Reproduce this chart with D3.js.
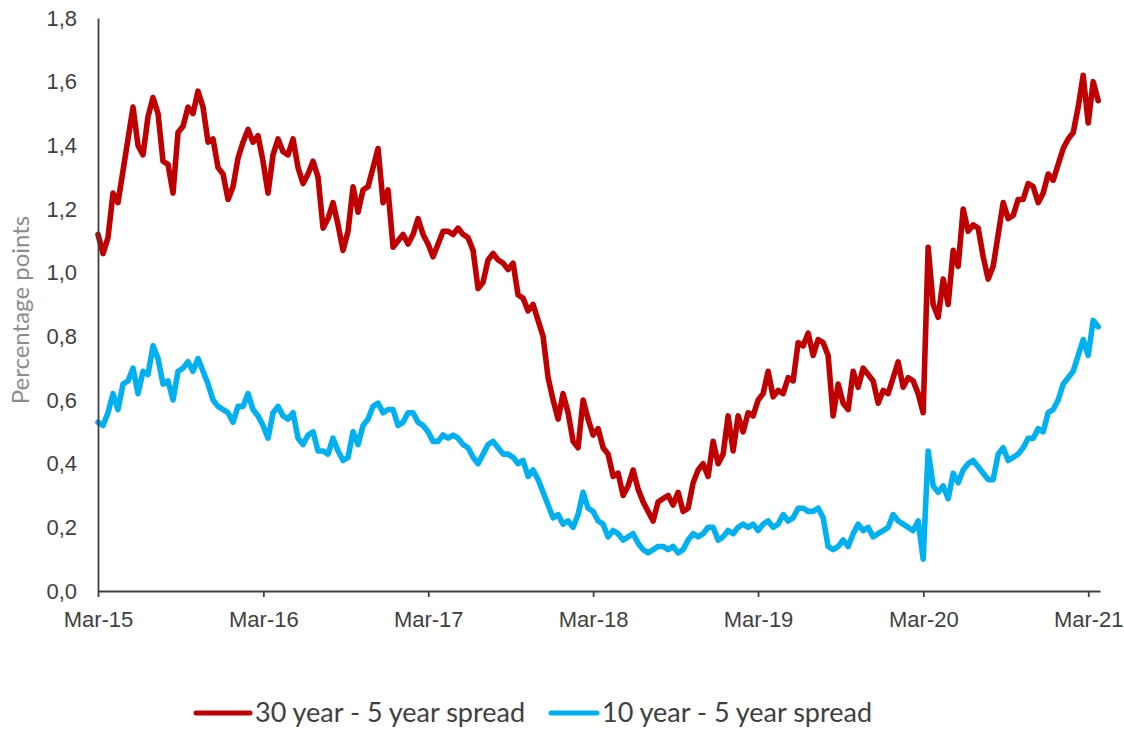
<!DOCTYPE html>
<html>
<head>
<meta charset="utf-8">
<script src="https://cdn.jsdelivr.net/npm/d3@7"></script>
<style>
  body { margin: 0; background: #fff; }
  svg { font-family: Lato, "Open Sans", sans-serif; }
  .tick text { fill: #404040; font-size: 22px; }
  .domain, .tick line { stroke: #404040; stroke-width: 1.8px; }
</style>
</head>
<body>
<script>
var svgWidth = 1124;
var svgHeight = 730;

// observations start 1 Mar 2015, one value every ~11 days
var startDate = new Date(2015, 2, 1);
var stepDays = 11.07;

var spread30_5 = [
    1.12, 1.06, 1.11, 1.25, 1.22, 1.32, 1.42, 1.52, 1.40, 1.37,
    1.49, 1.55, 1.50, 1.35, 1.34, 1.25, 1.44, 1.46, 1.52, 1.50,
    1.57, 1.52, 1.41, 1.42, 1.33, 1.31, 1.23, 1.27, 1.36, 1.41,
    1.45, 1.41, 1.43, 1.35, 1.25, 1.37, 1.42, 1.38, 1.37, 1.42,
    1.33, 1.28, 1.31, 1.35, 1.30, 1.14, 1.17, 1.22, 1.15, 1.07,
    1.13, 1.27, 1.19, 1.26, 1.27, 1.33, 1.39, 1.22, 1.26, 1.08,
    1.10, 1.12, 1.09, 1.12, 1.17, 1.12, 1.09, 1.05, 1.09, 1.13,
    1.13, 1.12, 1.14, 1.12, 1.11, 1.07, 0.95, 0.97, 1.04, 1.06,
    1.04, 1.03, 1.01, 1.03, 0.93, 0.92, 0.88, 0.90, 0.85, 0.80,
    0.67, 0.60, 0.54, 0.62, 0.56, 0.47, 0.45, 0.60, 0.54, 0.49,
    0.51, 0.45, 0.43, 0.36, 0.37, 0.30, 0.33, 0.38, 0.32, 0.28,
    0.25, 0.22, 0.28, 0.29, 0.30, 0.27, 0.31, 0.25, 0.26, 0.34,
    0.38, 0.40, 0.36, 0.47, 0.40, 0.43, 0.55, 0.44, 0.55, 0.50,
    0.56, 0.55, 0.60, 0.62, 0.69, 0.61, 0.63, 0.62, 0.67, 0.66,
    0.78, 0.77, 0.81, 0.74, 0.79, 0.78, 0.74, 0.55, 0.65, 0.59,
    0.57, 0.69, 0.64, 0.70, 0.68, 0.66, 0.59, 0.63, 0.62, 0.67,
    0.72, 0.64, 0.67, 0.66, 0.62, 0.56, 1.08, 0.90, 0.86, 0.98,
    0.90, 1.07, 1.02, 1.20, 1.13, 1.15, 1.14, 1.05, 0.98, 1.02,
    1.12, 1.22, 1.17, 1.18, 1.23, 1.23, 1.28, 1.27, 1.22, 1.25,
    1.31, 1.29, 1.34, 1.39, 1.42, 1.44, 1.52, 1.62, 1.47, 1.60,
    1.54
];

var spread10_5 = [
    0.53, 0.52, 0.56, 0.62, 0.57, 0.65, 0.66, 0.70, 0.62, 0.69,
    0.68, 0.77, 0.73, 0.65, 0.66, 0.60, 0.69, 0.70, 0.72, 0.69,
    0.73, 0.69, 0.65, 0.60, 0.58, 0.57, 0.56, 0.53, 0.58, 0.58,
    0.62, 0.57, 0.55, 0.52, 0.48, 0.56, 0.58, 0.55, 0.54, 0.56,
    0.48, 0.46, 0.49, 0.50, 0.44, 0.44, 0.43, 0.48, 0.44, 0.41,
    0.42, 0.50, 0.46, 0.52, 0.54, 0.58, 0.59, 0.56, 0.57, 0.57,
    0.52, 0.53, 0.56, 0.56, 0.53, 0.52, 0.50, 0.47, 0.47, 0.49,
    0.48, 0.49, 0.48, 0.46, 0.45, 0.42, 0.40, 0.43, 0.46, 0.47,
    0.45, 0.43, 0.43, 0.42, 0.40, 0.41, 0.36, 0.38, 0.35, 0.31,
    0.27, 0.23, 0.24, 0.21, 0.22, 0.20, 0.24, 0.31, 0.26, 0.25,
    0.22, 0.21, 0.17, 0.19, 0.18, 0.16, 0.17, 0.18, 0.15, 0.13,
    0.12, 0.13, 0.14, 0.14, 0.13, 0.14, 0.12, 0.13, 0.16, 0.18,
    0.17, 0.18, 0.20, 0.20, 0.16, 0.17, 0.19, 0.18, 0.20, 0.21,
    0.20, 0.21, 0.19, 0.21, 0.22, 0.20, 0.21, 0.24, 0.22, 0.23,
    0.26, 0.26, 0.25, 0.25, 0.26, 0.23, 0.14, 0.13, 0.14, 0.16,
    0.14, 0.18, 0.21, 0.19, 0.20, 0.17, 0.18, 0.19, 0.20, 0.24,
    0.22, 0.21, 0.20, 0.19, 0.22, 0.10, 0.44, 0.33, 0.31, 0.33,
    0.29, 0.37, 0.34, 0.38, 0.40, 0.41, 0.39, 0.37, 0.35, 0.35,
    0.43, 0.45, 0.41, 0.42, 0.43, 0.45, 0.48, 0.48, 0.51, 0.50,
    0.56, 0.57, 0.60, 0.65, 0.67, 0.69, 0.74, 0.79, 0.74, 0.85,
    0.83
];

var xTickDates = ["2015-03-01", "2016-03-01", "2017-03-01", "2018-03-01",
                  "2019-03-01", "2020-03-01", "2021-03-01"];
var yTicks = [0, 0.2, 0.4, 0.6, 0.8, 1.0, 1.2, 1.4, 1.6, 1.8];

var seriesNames = ["30 year - 5 year spread", "10 year - 5 year spread"];
var seriesColors = ["#C00000", "#00B0F0"];

var chartMargin = { top: 18, right: 24, bottom: 139, left: 98 };
var chartWidth = svgWidth - chartMargin.left - chartMargin.right;
var chartHeight = svgHeight - chartMargin.top - chartMargin.bottom;

var svg = d3.select("body")
            .append("svg")
            .attr("width", svgWidth)
            .attr("height", svgHeight);

var chartGroup = svg.append("g")
                    .attr("transform", `translate(${chartMargin.left}, ${chartMargin.top})`);

var parseDate = d3.timeParse("%Y-%m-%d");

function toRows(values) {
    return values.map((v, i) => ({
        date: new Date(startDate.getTime() + i * stepDays * 864e5),
        value: v
    }));
}

var series = [toRows(spread30_5), toRows(spread10_5)];

var xScale = d3.scaleTime()
               .domain([startDate, new Date(2021, 2, 27)])
               .range([0, chartWidth]);

var yScale = d3.scaleLinear()
               .domain([0, 1.8])
               .range([chartHeight, 0]);

var bottomAxis = d3.axisBottom(xScale)
                   .tickValues(xTickDates.map(parseDate))
                   .tickFormat(d3.timeFormat("%b-%y"))
                   .tickSizeInner(6)
                   .tickSizeOuter(0)
                   .tickPadding(14);

var leftAxis = d3.axisLeft(yScale)
                 .tickValues(yTicks)
                 .tickFormat(d => d3.format(".1f")(d).replace(".", ","))
                 .tickSize(0)
                 .tickPadding(21);

var lineGen = d3.line()
                .x(d => xScale(d.date))
                .y(d => yScale(d.value));

series.forEach((rows, i) => {
    chartGroup.append("path")
              .datum(rows)
              .attr("fill", "none")
              .attr("stroke", seriesColors[i])
              .attr("stroke-width", 5.6)
              .attr("stroke-linejoin", "round")
              .attr("stroke-linecap", "round")
              .attr("d", lineGen);
});

chartGroup.append("g")
          .attr("transform", `translate(0, ${chartHeight})`)
          .call(bottomAxis);

chartGroup.append("g")
          .call(leftAxis);

svg.append("text")
   .attr("transform", "translate(29, 310) rotate(-90)")
   .attr("text-anchor", "middle")
   .attr("fill", "#8C8C8C")
   .style("font-size", "24px")
   .text("Percentage points");

// legend
var legendItems = [
    { x: 196, textX: 255 },
    { x: 551, textX: 602 }
];

var legend = svg.append("g").attr("transform", "translate(0, 713)");

legendItems.forEach((item, i) => {
    legend.append("line")
          .attr("x1", item.x)
          .attr("x2", item.textX - 5)
          .attr("y1", 0)
          .attr("y2", 0)
          .attr("stroke", seriesColors[i])
          .attr("stroke-width", 5)
          .attr("stroke-linecap", "round");
    legend.append("text")
          .attr("x", item.textX)
          .attr("y", 9)
          .attr("fill", "#404040")
          .style("font-size", "27px")
          .text(seriesNames[i]);
});
</script>
</body>
</html>
